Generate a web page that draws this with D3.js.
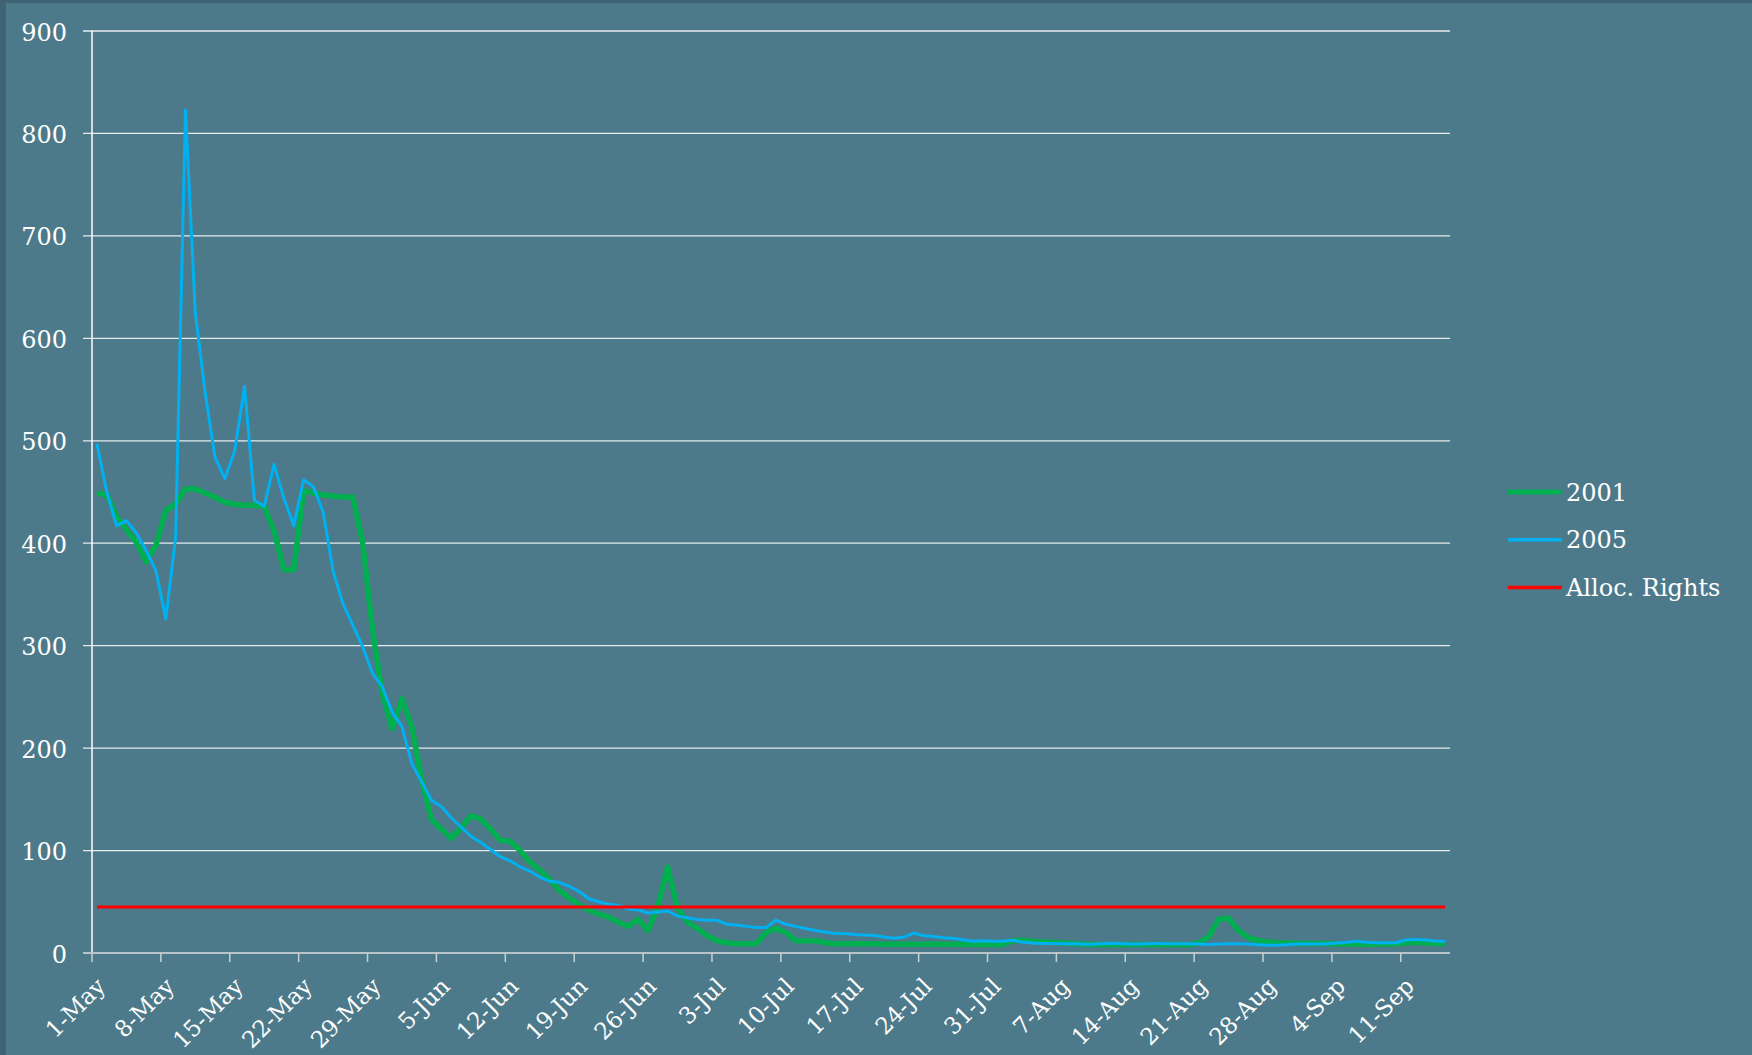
<!DOCTYPE html>
<html>
<head>
<meta charset="utf-8">
<script src="https://d3js.org/d3.v7.min.js"></script>
<style>
  body {
    margin: 0;
    background: #3e6373;
    font-family: "DejaVu Serif", serif;
  }
  .grid line {
    stroke: #e6ecee;
    stroke-width: 1.3px;
  }
  .label {
    fill: #fff;
    font-size: 24px;
  }
</style>
</head>
<body>
<div id="chart"></div>
<script>

  // daily values, starting 1-May
  var startDay = Date.UTC(2005, 4, 1);

  var flow2001 = [
    449, 447, 426, 413, 401, 382, 398, 432, 438, 453,
    453, 449, 445, 440, 438, 437, 437, 436, 412, 374,
    374, 451, 449, 447, 446, 445, 445, 401, 316, 253,
    219, 248, 221, 169, 130, 121, 112, 122, 134, 131,
    121, 110, 109, 100, 89, 81, 72, 61, 54, 47,
    42, 38, 35, 30, 26, 33, 22, 45, 84, 44,
    30, 24, 17, 12, 10, 9, 9, 9, 20, 24,
    20, 12, 12, 12, 10, 9, 9, 9, 9, 9,
    8.5, 8.5, 8.5, 8.5, 8.5, 8.5, 8.5, 8.5, 8.5, 8.4,
    8.4, 8.4, 8.4, 12, 12.5, 11.4, 11, 10.4, 9.8, 9.2,
    8.7, 8.2, 8.2, 8.2, 8.2, 8.2, 8.2, 8.2, 8.2, 8.2,
    8.2, 8, 10, 16, 33, 34, 22, 15, 12, 10.7,
    10, 9.8, 9.4, 9.2, 9.2, 9.2, 8.7, 8.7, 8.7, 8.4,
    8.7, 8.7, 8.7, 9.8, 10.4, 9.8, 9.2, 9.2
  ];

  var flow2005 = [
    497, 450, 417, 422, 410, 393, 373, 326, 406, 823,
    625, 547, 484, 463, 490, 553, 442, 436, 477, 444,
    417, 462, 455, 430, 373, 341, 320, 299, 273, 260,
    235, 221, 185, 167, 149, 143, 132, 123, 114, 108,
    101, 94, 90, 84, 80, 74, 70, 69, 65, 60,
    53, 50, 47.5, 46.6, 43, 42, 39, 40, 41, 36,
    34.5, 32.6, 32, 32, 28, 27.4, 26, 24.8, 24.8, 32,
    28, 26, 24, 22, 20.5, 19, 19, 18, 17.6, 17,
    15.7, 14.3, 15.6, 19.5, 17, 16, 15, 14.3, 13, 11.4,
    12, 11.4, 11.4, 12.4, 10.7, 9.8, 9.2, 9.2, 9, 9,
    8.7, 8.2, 9, 9.4, 9.2, 8.7, 8.7, 9.2, 9.2, 9,
    9, 9, 8.7, 8.4, 8.7, 9, 9, 8.7, 8, 7.5,
    7.5, 8, 8.7, 8.7, 8.7, 9, 9.7, 10.4, 11.4, 10.4,
    10, 10, 10, 12.7, 13.3, 12.7, 11.7, 11.4
  ];

  var allocRights = 45;

  var yTicks = [0, 100, 200, 300, 400, 500, 600, 700, 800, 900];
  var seriesNames = ["2001", "2005", "Alloc. Rights"];
  var seriesColors = ["#00b050", "#00b0f0", "#ff0000"];
  var seriesWidths = [5.5, 3, 3];

  var width = 1752,
      height = 1055;

  var dayMs = 24 * 3600 * 1000;
  var days = flow2001.length;

  var x = d3.scaleUtc()
      .domain([new Date(startDay), new Date(startDay + days * dayMs)])
      .range([92, 1450]);

  var y = d3.scaleLinear()
      .domain([0, 900])
      .range([953, 31]);

  // points sit in the middle of each day
  function toPoints(vals) {
    return vals.map(function(v, i) {
      return { date: new Date(startDay + (i + 0.5) * dayMs), value: v };
    });
  }

  var series = [
    toPoints(flow2001),
    toPoints(flow2005),
    toPoints(flow2001.map(function() { return allocRights; }))
  ];

  var svg = d3.select("#chart").append("svg")
      .attr("width", width)
      .attr("height", height);

  svg.append("rect")
      .attr("x", 6)
      .attr("y", 3)
      .attr("width", width - 6)
      .attr("height", height - 3)
      .attr("fill", "#4d7a8a");

  // horizontal gridlines, with the little outward tick at the left
  var grid = svg.append("g").attr("class", "grid");
  grid.selectAll("line")
      .data(yTicks.filter(function(t) { return t > 0; }))
      .enter().append("line")
      .attr("x1", 83)
      .attr("x2", 1450)
      .attr("y1", function(d) { return y(d); })
      .attr("y2", function(d) { return y(d); });

  // y axis line
  svg.append("line")
      .attr("x1", 92).attr("x2", 92)
      .attr("y1", y(900)).attr("y2", y(0))
      .attr("stroke", "#fff")
      .attr("stroke-width", 1.5);

  svg.selectAll(".ylab")
      .data(yTicks)
      .enter().append("text")
      .attr("class", "label ylab")
      .attr("x", 67)
      .attr("y", function(d) { return y(d); })
      .attr("dy", "0.4em")
      .attr("text-anchor", "end")
      .text(function(d) { return d; });

  // x axis: weekly ticks
  var xTicks = d3.utcDay.range(new Date(startDay), new Date(startDay + days * dayMs), 7);
  var fmt = d3.utcFormat("%-d-%b");

  svg.append("line")
      .attr("x1", 83).attr("x2", 1450)
      .attr("y1", y(0)).attr("y2", y(0))
      .attr("stroke", "#b8c4c9")
      .attr("stroke-width", 2);

  svg.selectAll(".xtick")
      .data(xTicks)
      .enter().append("line")
      .attr("class", "xtick")
      .attr("x1", function(d) { return x(d); })
      .attr("x2", function(d) { return x(d); })
      .attr("y1", y(0))
      .attr("y2", y(0) + 9)
      .attr("stroke", "#c8d1d5")
      .attr("stroke-width", 1.5);

  svg.selectAll(".xlab")
      .data(xTicks)
      .enter().append("text")
      .attr("class", "label xlab")
      .style("font-size", "23px")
      .attr("text-anchor", "end")
      .attr("dy", "0.35em")
      .attr("transform", function(d) {
        return "translate(" + (x(d) + 9) + "," + 982 + ") rotate(-45)";
      })
      .text(function(d) { return fmt(d); });

  var line = d3.line()
      .x(function(d) { return x(d.date); })
      .y(function(d) { return y(d.value); });

  svg.selectAll(".series")
      .data(series)
      .enter().append("path")
      .attr("class", "series")
      .attr("d", line)
      .attr("fill", "none")
      .attr("stroke", function(d, i) { return seriesColors[i]; })
      .attr("stroke-width", function(d, i) { return seriesWidths[i]; })
      .attr("stroke-linejoin", "round");

  // legend
  var legend = svg.selectAll(".legend")
      .data(seriesNames)
      .enter().append("g")
      .attr("class", "legend")
      .attr("transform", function(d, i) { return "translate(1508," + (492 + i * 47.7) + ")"; });

  legend.append("line")
      .attr("x1", 0).attr("x2", 54)
      .attr("stroke", function(d, i) { return seriesColors[i]; })
      .attr("stroke-width", function(d, i) { return i == 0 ? 5 : 3.5; });

  legend.append("text")
      .attr("class", "label")
      .attr("x", 58)
      .attr("dy", "0.36em")
      .text(function(d) { return d; });

</script>
</body>
</html>
